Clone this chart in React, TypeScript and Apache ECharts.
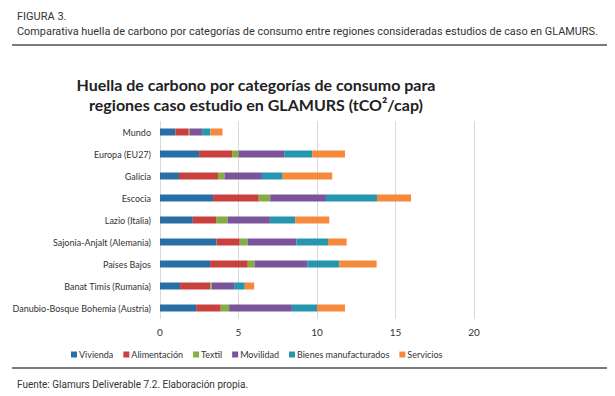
import React, { useEffect, useRef } from "react";
import * as echarts from "echarts";

const categories = [
  "Mundo",
  "Europa (EU27)",
  "Galicia",
  "Escocia",
  "Lazio (Italia)",
  "Sajonia-Anjalt (Alemania)",
  "Países Bajos",
  "Banat Timis (Rumanía)",
  "Danubio-Bosque Bohemia (Austria)",
];

const seriesNames = ["Vivienda", "Alimentación", "Textil", "Movilidad", "Bienes manufacturados", "Servicios"];

const vivienda = [0.98, 2.49, 1.21, 3.38, 2.09, 3.6, 3.19, 1.28, 2.3];
const alimentacion = [0.85, 2.1, 2.49, 2.91, 1.48, 1.48, 2.4, 1.93, 1.57];
const textil = [0.07, 0.41, 0.41, 0.73, 0.75, 0.51, 0.43, 0.09, 0.53];
const movilidad = [0.78, 2.91, 2.38, 3.55, 2.68, 3.11, 3.36, 1.42, 4.0];
const bienes = [0.53, 1.78, 1.32, 3.25, 1.61, 2.0, 2.04, 0.68, 1.6];
const servicios = [0.77, 2.09, 3.16, 2.17, 2.17, 1.19, 2.38, 0.6, 1.78];

const seriesData = [vivienda, alimentacion, textil, movilidad, bienes, servicios];
const colors = ["#2a6ea6", "#c9413f", "#86ad45", "#7b559c", "#2596ad", "#f6893b"];

const xTicks = [0, 5, 10, 15, 20];

export default function App() {
  const ref = useRef<HTMLDivElement>(null);
  useEffect(() => {
    if (!ref.current) return;
    const chart = echarts.init(ref.current, undefined, { renderer: "svg" });
    chart.setOption({
      animation: false,
      backgroundColor: "#ffffff",
      color: colors,
      title: [
        {
          text: "FIGURA 3.",
          left: 12,
          top: 6,
          textStyle: { fontFamily: "Roboto", fontSize: 11, fontWeight: "normal", color: "#333" },
        },
        {
          text: "Comparativa huella de carbono por categorías de consumo entre regiones consideradas estudios de caso en GLAMURS.",
          left: 12,
          top: 21,
          textStyle: { fontFamily: "Roboto", fontSize: 10.9, fontWeight: "normal", color: "#333" },
        },
        {
          text: "Huella de carbono por categorías de consumo para\nregiones caso estudio en GLAMURS (tCO²/cap)",
          left: 251,
          top: 69,
          textAlign: "center",
          textStyle: {
            fontFamily: "Lato",
            fontSize: 16,
            fontWeight: "bold",
            color: "#222",
            lineHeight: 20,
          },
        },
        {
          text: "Fuente: Glamurs Deliverable 7.2. Elaboración propia.",
          left: 12,
          top: 374,
          textStyle: { fontFamily: "Roboto", fontSize: 10, fontWeight: "normal", color: "#333" },
        },
      ],
      graphic: [
        { type: "line", shape: { x1: 12, y1: 45, x2: 607, y2: 45 }, style: { stroke: "#7a7a7a", lineWidth: 2 } },
        { type: "line", shape: { x1: 12, y1: 368, x2: 607, y2: 368 }, style: { stroke: "#7a7a7a", lineWidth: 2 } },
      ],
      legend: {
        left: 66,
        top: 345,
        itemWidth: 6,
        itemHeight: 6,
        itemGap: 10,
        icon: "rect",
        textStyle: { fontFamily: "Lato", fontSize: 9, color: "#333", padding: [0, 0, 0, -3] },
        data: seriesNames,
      },
      grid: { left: 160, right: 141, top: 121, bottom: 77, containLabel: false, outerBoundsMode: "none" },
      xAxis: {
        type: "value",
        min: 0,
        max: 20,
        interval: 5,
        axisLine: { show: false },
        axisTick: { show: false },
        splitLine: { show: true, lineStyle: { color: "#d9d9d9", width: 1 } },
        axisLabel: {
          fontFamily: "Lato",
          fontSize: 10,
          color: "#333",
          margin: 8,
          formatter: (v: number) => (xTicks.includes(v) ? String(v) : ""),
        },
      },
      yAxis: {
        type: "category",
        data: categories,
        inverse: true,
        axisLine: { show: false },
        axisTick: { show: false },
        axisLabel: { fontFamily: "Lato", fontSize: 9, color: "#333", margin: 9 },
      },
      series: seriesNames.map((name, i) => ({
        name,
        type: "bar",
        stack: "total",
        barWidth: 7,
        data: seriesData[i],
        itemStyle: { color: colors[i] },
      })),
    });
    return () => chart.dispose();
  }, []);
  return (
    <div
      ref={ref}
      style={{ position: "absolute", left: 0, top: 0, width: 615, height: 396 }}
    />
  );
}
